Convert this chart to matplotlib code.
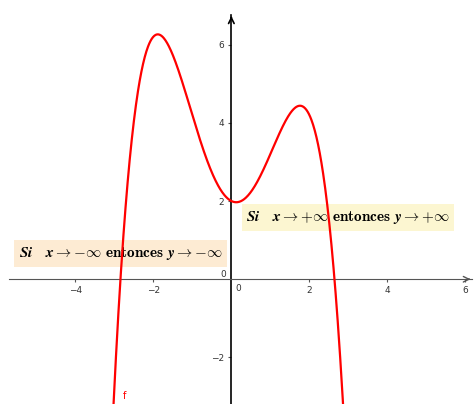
import numpy as np
import matplotlib.pyplot as plt

plt.rcParams['mathtext.fontset'] = 'cm'

# f(x) = -0.3x^4 + 2x^2 - 0.5x + 2
coefs = [-0.3, 0.0, 2.0, -0.5, 2.0]
x_ticks = [-4, -2, 2, 4, 6]
y_ticks = [-2, 2, 4, 6]
left_note = r'$\mathbfit{Si}\quad \mathbfit{x} \boldsymbol{\rightarrow} {-}\boldsymbol{\infty}\ \mathbf{entonces}\ \mathbfit{y} \boldsymbol{\rightarrow} {-}\boldsymbol{\infty}$'
right_note = r'$\mathbfit{Si}\quad \mathbfit{x} \boldsymbol{\rightarrow} {+}\boldsymbol{\infty}\ \mathbf{entonces}\ \mathbfit{y} \boldsymbol{\rightarrow} {+}\boldsymbol{\infty}$'

fig = plt.figure(figsize=(4.74, 4.04), dpi=100)
ax = fig.add_axes([0, 0, 1, 1])
ax.set_xlim(-5.93, 6.22)
ax.set_ylim(-3.19, 7.14)

xs = np.linspace(-3.3, 3.1, 600)
ax.plot(xs, np.polyval(coefs, xs), color='#ff0000', lw=1.6, zorder=5)
ax.text(-2.78, -3.05, 'f', color='#ff0000', fontsize=7, zorder=5)

# axes through the origin
for side in ['top', 'right']:
    ax.spines[side].set_visible(False)
ax.spines['bottom'].set_position(('data', 0))
ax.spines['bottom'].set_bounds(-5.70, 6.17)
ax.spines['bottom'].set_color('#555555')
ax.spines['left'].set_position(('data', 0))
ax.spines['left'].set_bounds(-3.19, 6.76)
ax.spines['left'].set_color('black')
ax.spines['left'].set_linewidth(1.2)
ax.annotate('', xy=(6.2, 0), xytext=(6.0, 0),
            arrowprops=dict(arrowstyle='->', color='#555555', lw=1))
ax.annotate('', xy=(0, 6.8), xytext=(0, 6.6),
            arrowprops=dict(arrowstyle='->', color='black', lw=1.2))

ax.set_xticks(x_ticks)
ax.set_yticks(y_ticks)
ax.tick_params(axis='both', direction='out', length=2.5, width=0.8,
               color='#555555', labelsize=6.5, labelcolor='#333333', pad=2.5)
ax.text(0.18, -0.23, '0', fontsize=6.5, color='#333333', ha='center', va='center')
ax.text(-0.22, 0.13, '0', fontsize=6.5, color='#333333', ha='center', va='center')

ax.text(-2.83, 0.66, left_note, fontsize=11, ha='center', va='center', zorder=3,
        bbox=dict(boxstyle='square,pad=0.3', fc='#fdebd3', ec='none'))
ax.text(2.99, 1.58, right_note, fontsize=11, ha='center', va='center', zorder=3,
        bbox=dict(boxstyle='square,pad=0.3', fc='#fcf6d1', ec='none'))

fig.savefig('out.png', dpi=100)
